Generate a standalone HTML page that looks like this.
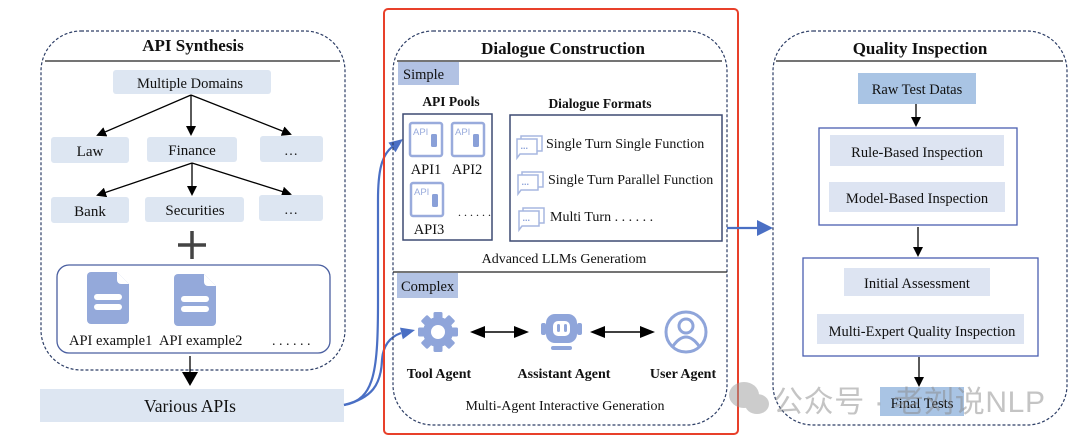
<!DOCTYPE html>
<html><head><meta charset="utf-8"><style>
html,body{margin:0;padding:0;background:#fff;}
svg{display:block;}
text{font-family:"Liberation Serif",serif;fill:#111;}
.b{font-weight:bold;}
.sans{font-family:"Liberation Sans",sans-serif;}
</style></head><body>
<svg width="1080" height="443" viewBox="0 0 1080 443" xmlns="http://www.w3.org/2000/svg">
<defs>
<marker id="ak" markerWidth="10" markerHeight="10" refX="8" refY="5" orient="auto" markerUnits="userSpaceOnUse"><path d="M0,0 L10,5 L0,10 z" fill="#000"/></marker>
<g id="apiic"><rect x="0" y="0" width="32" height="33" rx="2" fill="#fff" stroke="#99abdc" stroke-width="2.5"/><text x="3" y="12" class="sans" font-size="9.5" style="fill:#99abdc;font-family:'Liberation Sans',sans-serif">API</text><rect x="21" y="11" width="6" height="13" rx="1.5" fill="#8aa0d8"/></g>
<g id="chat"><path d="M3,5 h20 v15 h-17 l-3,4 v-4 z" fill="#fff" stroke="#a7b7e0" stroke-width="1.5"/><path d="M7,5 v-3 h21 v15 h-5" fill="none" stroke="#a7b7e0" stroke-width="1.5"/><text x="6.5" y="15" font-size="9" style="fill:#8aa0d8;font-family:'Liberation Sans',sans-serif;font-weight:bold">...</text></g>
<g id="doc"><path d="M0,4 a4,4 0 0 1 4,-4 h26 l12,12 v36 a4,4 0 0 1 -4,4 h-34 a4,4 0 0 1 -4,-4 z" fill="#94a9da"/><path d="M30,0 l12,12 h-8 a4,4 0 0 1 -4,-4 z" fill="#fff"/><rect x="7" y="22" width="28" height="6" rx="3" fill="#fff"/><rect x="7" y="32" width="28" height="6" rx="3" fill="#fff"/></g>
</defs>

<!-- LEFT PANEL -->
<rect x="41" y="31" width="304" height="339" rx="40" fill="none" stroke="#2d3e66" stroke-width="1.2" stroke-dasharray="3,2"/>
<text x="193" y="51" font-size="17" text-anchor="middle" class="b">API Synthesis</text>
<line x1="45" y1="61" x2="340" y2="61" stroke="#222" stroke-width="1.3"/>
<rect x="113" y="70" width="158" height="24" rx="3" fill="#dde6f2"/>
<text x="190" y="88" font-size="14.5" text-anchor="middle">Multiple Domains</text>
<line x1="191" y1="95" x2="98" y2="135" stroke="#000" stroke-width="1.3" marker-end="url(#ak)"/>
<line x1="191" y1="95" x2="191" y2="134" stroke="#000" stroke-width="1.3" marker-end="url(#ak)"/>
<line x1="191" y1="95" x2="290" y2="134" stroke="#000" stroke-width="1.3" marker-end="url(#ak)"/>
<rect x="51" y="137" width="78" height="26" rx="3" fill="#dde6f2"/><text x="90" y="156" font-size="15" text-anchor="middle">Law</text>
<rect x="147" y="137" width="90" height="25" rx="3" fill="#dde6f2"/><text x="192" y="155" font-size="15" text-anchor="middle">Finance</text>
<rect x="260" y="136" width="63" height="26" rx="3" fill="#dde6f2"/><text x="291" y="155" font-size="14" text-anchor="middle">…</text>
<line x1="192" y1="163" x2="98" y2="195" stroke="#000" stroke-width="1.3" marker-end="url(#ak)"/>
<line x1="192" y1="163" x2="192" y2="194" stroke="#000" stroke-width="1.3" marker-end="url(#ak)"/>
<line x1="192" y1="163" x2="290" y2="194" stroke="#000" stroke-width="1.3" marker-end="url(#ak)"/>
<rect x="51" y="197" width="78" height="26" rx="3" fill="#dde6f2"/><text x="90" y="216" font-size="15" text-anchor="middle">Bank</text>
<rect x="145" y="197" width="99" height="25" rx="3" fill="#dde6f2"/><text x="195" y="215" font-size="15" text-anchor="middle">Securities</text>
<rect x="259" y="195" width="64" height="26" rx="3" fill="#dde6f2"/><text x="291" y="214" font-size="14" text-anchor="middle">…</text>
<path d="M178,245 h28 M192,231 v28" stroke="#444" stroke-width="3.5"/>
<rect x="57" y="265" width="273" height="88" rx="12" fill="#fff" stroke="#4a5fa0" stroke-width="1.3"/>
<use href="#doc" x="87" y="272"/>
<use href="#doc" x="174" y="274"/>
<text x="69" y="345" font-size="14.5">API example1</text>
<text x="159" y="345" font-size="14.5">API example2</text>
<text x="272" y="345" font-size="14">. . . . . .</text>
<line x1="190" y1="356" x2="190" y2="380" stroke="#000" stroke-width="1.3"/>
<path d="M182,372 L198,372 L190,386 z" fill="#000"/>
<rect x="40" y="389" width="304" height="33" fill="#dde6f2"/>
<text x="190" y="412" font-size="17.5" text-anchor="middle">Various APIs</text>

<!-- blue curves -->
<path d="M344,405 C375,400 378,370 378,300 L378,200 C378,170 382,155 392,147" fill="none" stroke="#4a6fc4" stroke-width="2.2"/>
<path d="M403,139 L395.6,152.2 L388.4,142.6 z" fill="#4a6fc4"/>
<path d="M344,405 C372,398 381,385 382,360 C383,345 390,337 401,333" fill="none" stroke="#4a6fc4" stroke-width="2.2"/>
<path d="M415,330 L402.8,339.2 L400,327.6 z" fill="#4a6fc4"/>

<!-- MIDDLE -->
<rect x="384" y="9" width="354" height="425" rx="4" fill="none" stroke="#e8402a" stroke-width="2"/>
<rect x="393" y="31" width="334" height="394" rx="40" fill="none" stroke="#2d3e66" stroke-width="1.2" stroke-dasharray="3,2"/>
<text x="563" y="54" font-size="17" text-anchor="middle" class="b">Dialogue Construction</text>
<line x1="397" y1="61" x2="722" y2="61" stroke="#222" stroke-width="1.3"/>
<rect x="398" y="62" width="61" height="23" fill="#b2c2e3"/>
<text x="403" y="79" font-size="14.5">Simple</text>
<text x="451" y="106" font-size="13.5" text-anchor="middle" class="b">API Pools</text>
<rect x="403" y="114" width="89" height="126" fill="none" stroke="#3d4a72" stroke-width="1.5"/>
<use href="#apiic" x="410" y="123"/>
<use href="#apiic" x="452" y="123"/>
<use href="#apiic" x="411" y="183"/>
<text x="426" y="174" font-size="14.5" text-anchor="middle">API1</text>
<text x="467" y="174" font-size="14.5" text-anchor="middle">API2</text>
<text x="429" y="234" font-size="14.5" text-anchor="middle">API3</text>
<text x="458" y="216" font-size="12">. . . . . .</text>
<text x="600" y="108" font-size="13.5" text-anchor="middle" class="b">Dialogue Formats</text>
<rect x="510" y="115" width="212" height="126" fill="none" stroke="#3d4a72" stroke-width="1.5"/>
<use href="#chat" x="514" y="134"/>
<use href="#chat" x="515" y="170"/>
<use href="#chat" x="516" y="206"/>
<text x="546" y="148" font-size="14">Single Turn Single Function</text>
<text x="548" y="184" font-size="14">Single Turn Parallel Function</text>
<text x="550" y="221" font-size="14">Multi Turn . . . . . .</text>
<text x="564" y="263" font-size="14" text-anchor="middle">Advanced LLMs Generatiom</text>
<line x1="393" y1="272" x2="727" y2="272" stroke="#222" stroke-width="1.3"/>
<rect x="397" y="273" width="61" height="25" fill="#b2c2e3"/>
<text x="401" y="291" font-size="14.5">Complex</text>
<!-- gear -->
<g transform="translate(438,332)" fill="#8fa5da">
<rect x="-4.5" y="-20" width="9" height="40" rx="1.5"/><rect x="-4.5" y="-20" width="9" height="40" rx="1.5" transform="rotate(45)"/><rect x="-4.5" y="-20" width="9" height="40" rx="1.5" transform="rotate(90)"/><rect x="-4.5" y="-20" width="9" height="40" rx="1.5" transform="rotate(135)"/>
<circle r="15"/><circle r="7" fill="#fff"/>
</g>
<!-- robot -->
<g fill="#8fa5da">
<rect x="546" y="314" width="31" height="29" rx="9"/>
<rect x="553" y="321" width="17" height="15" rx="5" fill="#fff"/>
<rect x="557" y="324" width="3" height="8" rx="1.5"/><rect x="564" y="324" width="3" height="8" rx="1.5"/>
<rect x="541" y="323" width="5" height="12" rx="2"/><rect x="577" y="323" width="5" height="12" rx="2"/>
<rect x="551" y="346" width="21" height="4" rx="2"/>
</g>
<!-- user -->
<g fill="none" stroke="#8fa5da" stroke-width="3">
<circle cx="686" cy="332" r="20"/>
<circle cx="686" cy="326" r="7"/>
<path d="M673,346 q13,-18 26,0"/>
</g>
<line x1="480" y1="332" x2="520" y2="332" stroke="#000" stroke-width="1.5"/>
<path d="M470,332 L485,326 L485,338 z M529,332 L514,326 L514,338 z" fill="#000"/>
<line x1="600" y1="332" x2="645" y2="332" stroke="#000" stroke-width="1.5"/>
<path d="M590,332 L605,326 L605,338 z M655,332 L640,326 L640,338 z" fill="#000"/>
<text x="439" y="378" font-size="14" text-anchor="middle" class="b">Tool Agent</text>
<text x="564" y="378" font-size="14" text-anchor="middle" class="b">Assistant Agent</text>
<text x="683" y="378" font-size="14" text-anchor="middle" class="b">User Agent</text>
<text x="565" y="410" font-size="14" text-anchor="middle">Multi-Agent Interactive Generation</text>

<!-- middle -> right arrow -->
<line x1="727" y1="228" x2="760" y2="228" stroke="#4a6fc4" stroke-width="2.2"/>
<path d="M773,228 L757,220 L757,236 z" fill="#4a6fc4"/>

<!-- RIGHT -->
<rect x="773" y="31" width="294" height="394" rx="40" fill="none" stroke="#2d3e66" stroke-width="1.2" stroke-dasharray="3,2"/>
<text x="920" y="54" font-size="17" text-anchor="middle" class="b">Quality Inspection</text>
<line x1="776" y1="61" x2="1063" y2="61" stroke="#222" stroke-width="1.3"/>
<rect x="858" y="73" width="118" height="31" fill="#a9c4e4"/>
<text x="917" y="94" font-size="14.5" text-anchor="middle">Raw Test Datas</text>
<line x1="916" y1="104" x2="916" y2="125" stroke="#000" stroke-width="1.3" marker-end="url(#ak)"/>
<rect x="819" y="128" width="198" height="97" fill="#fff" stroke="#4a5fb0" stroke-width="1.3"/>
<rect x="830" y="135" width="174" height="31" fill="#dde4f2"/>
<text x="917" y="157" font-size="14.5" text-anchor="middle">Rule-Based Inspection</text>
<rect x="829" y="182" width="176" height="30" fill="#dde4f2"/>
<text x="917" y="203" font-size="14.5" text-anchor="middle">Model-Based Inspection</text>
<line x1="918" y1="227" x2="918" y2="255" stroke="#000" stroke-width="1.3" marker-end="url(#ak)"/>
<rect x="803" y="258" width="235" height="98" fill="#fff" stroke="#4a5fb0" stroke-width="1.3"/>
<rect x="844" y="268" width="146" height="28" fill="#dde4f2"/>
<text x="917" y="288" font-size="14.5" text-anchor="middle">Initial Assessment</text>
<rect x="817" y="314" width="207" height="30" fill="#dde4f2"/>
<text x="922" y="336" font-size="14.5" text-anchor="middle">Multi-Expert Quality Inspection</text>
<line x1="919" y1="357" x2="919" y2="385" stroke="#000" stroke-width="1.3" marker-end="url(#ak)"/>
<rect x="880" y="387" width="84" height="29" fill="#a9c4e4"/>
<text x="922" y="408" font-size="14.5" text-anchor="middle">Final Tests</text>

<!-- watermark -->
<g opacity="0.5">
<ellipse cx="744" cy="395" rx="15" ry="13" fill="#9a9a9a"/>
<ellipse cx="757" cy="404" rx="12" ry="10" fill="#9a9a9a"/>
<text x="773" y="412" font-size="30" textLength="272" style="fill:#8a8a8a;font-family:'Liberation Sans','Noto Sans CJK SC',sans-serif">公众号 · 老刘说NLP</text>
</g>
</svg>
</body></html>
